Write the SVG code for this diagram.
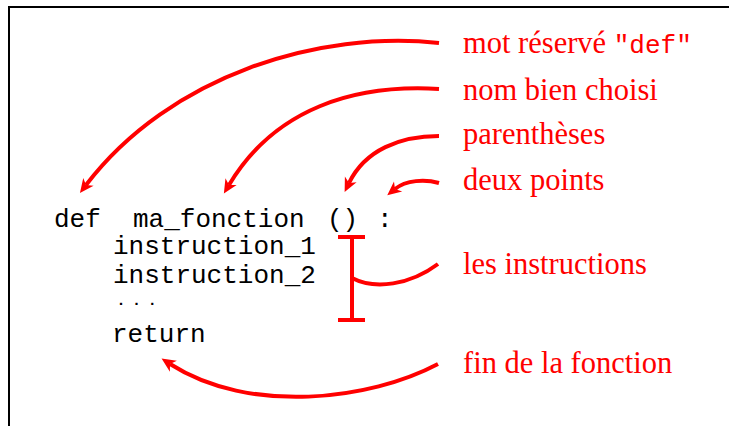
<svg xmlns="http://www.w3.org/2000/svg" width="729" height="426" viewBox="0 0 729 426">
<style>
.code{font-family:"Liberation Mono","DejaVu Sans Mono",monospace;font-size:26px;fill:#000}
.dots{font-family:"Liberation Mono","DejaVu Sans Mono",monospace;font-size:15px;font-weight:bold;letter-spacing:6.6px;fill:#000}
.lbl{font-family:"Liberation Serif","Times New Roman",serif;font-size:30.5px;fill:#ff0000}
.tt{font-family:"Liberation Mono","DejaVu Sans Mono",monospace;font-size:26px}
.arr{fill:none;stroke:#ff0000;stroke-width:4}
</style>
<defs>
<marker id="ah" markerUnits="userSpaceOnUse" viewBox="-2 -8 20 16" markerWidth="20" markerHeight="16" refX="4" refY="0" orient="auto">
<path d="M0,-6.5 L14,0 L0,6.5 L4,0 Z" fill="#ff0000"/>
</marker>
</defs>
<rect width="729" height="426" fill="#fff"/>
<g id="frame" fill="none" stroke="#000" stroke-width="2">
<path d="M9,426 L9,7 L729,7"/>
</g>
<g id="code">
<text class="code" x="54" y="227">def</text>
<text class="code" x="133" y="227">ma_fonction</text>
<text class="code" x="327" y="227">()</text>
<text class="code" x="377" y="227">:</text>
<text class="code" x="113" y="254">instruction_1</text>
<text class="code" x="113" y="283">instruction_2</text>
<text class="dots" x="116.5" y="305">...</text>
<text class="code" x="112" y="342">return</text>
</g>
<g id="labels">
<text class="lbl" x="463" y="53">mot réservé <tspan class="tt">"def"</tspan></text>
<text class="lbl" x="463" y="100">nom bien choisi</text>
<text class="lbl" x="463" y="144">parenthèses</text>
<text class="lbl" x="463" y="190">deux points</text>
<text class="lbl" x="463" y="274">les instructions</text>
<text class="lbl" x="463" y="373">fin de la fonction</text>
</g>
<g id="connectors">
<path class="arr" marker-end="url(#ah)" d="M439,43 C320,30 170,75 86,185"/>
<path class="arr" marker-end="url(#ah)" d="M439,89 C355,84 275,108 229,185"/>
<path class="arr" marker-end="url(#ah)" d="M439,136 C400,136 365,150 349,183"/>
<path class="arr" marker-end="url(#ah)" d="M439,183 C425,179 406,180 395,189"/>
<path class="arr" marker-end="url(#ah)" d="M438,364 C370,400 250,415 170,364"/>
<g id="bracket">
<path class="arr" d="M338,237 L365,237 M352,237 L352,320 M338,320 L365,320"/>
<path class="arr" d="M352,278 C375,290 410,285 438,264"/>
</g>
</g>
</svg>
